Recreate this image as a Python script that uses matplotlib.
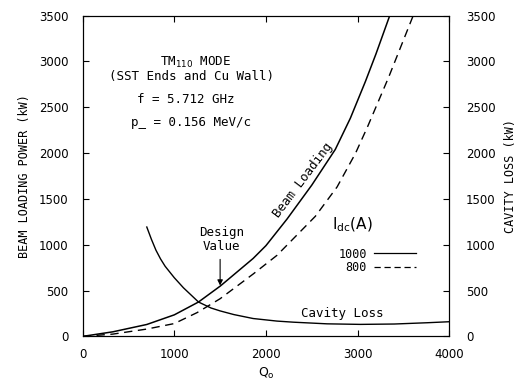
import matplotlib
matplotlib.use("Agg")
import matplotlib.pyplot as plt
from matplotlib.lines import Line2D

## Values
# Beam loading power (kW) vs Q_o, I_dc = 1000 A (solid)
q_1000 = [0, 330, 700, 1000, 1264, 1503, 1860, 2000, 2230, 2500, 2757, 2921, 3085, 3200, 3351]
p_1000 = [0, 50, 130, 235, 375, 550, 850, 990, 1280, 1650, 2040, 2380, 2780, 3080, 3500]

# Beam loading power (kW) vs Q_o, I_dc = 800 A (dashed)
q_800 = [0, 330, 700, 1000, 1250, 1500, 1860, 2120, 2539, 2776, 2976, 3110, 3340, 3607]
p_800 = [0, 25, 80, 140, 260, 411, 680, 884, 1310, 1630, 1995, 2290, 2830, 3500]

# Cavity loss (kW), right axis
q_cav = [700, 750, 800, 850, 900, 1000, 1100, 1264, 1400, 1500, 1650, 1860, 2120, 2300, 2667, 3030, 3400, 3760, 4000]
p_cav = [1193, 1060, 940, 845, 765, 640, 530, 375, 310, 278, 238, 195, 167, 155, 137, 131, 135, 149, 160]

design_q = 1500
x_ticks = [0, 1000, 2000, 3000, 4000]
y_ticks = [0, 500, 1000, 1500, 2000, 2500, 3000, 3500]
legend_labels = ["1000", "800"]

mono = "DejaVu Sans Mono"
plt.rcParams["font.size"] = 8.5

fig = plt.figure(figsize=(5.23, 3.88), dpi=100)
ax = fig.add_axes([0.158, 0.133, 0.701, 0.827])
ax2 = ax.twinx()

ax.plot(q_1000, p_1000, "-", color="black", lw=1.1)
ax.plot(q_800, p_800, "--", color="black", lw=1.0, dashes=(6, 4))
ax2.plot(q_cav, p_cav, "-", color="black", lw=1.0)

ax.set_xlim(0, 4000)
ax.set_ylim(0, 3500)
ax2.set_ylim(0, 3500)
ax.set_xticks(x_ticks)
ax.set_yticks(y_ticks)
ax2.set_yticks(y_ticks)

ax.tick_params(direction="in", length=4, width=0.8, top=True, pad=8)
ax.tick_params(axis="y", pad=10)
ax2.tick_params(direction="in", length=4, width=0.8, pad=12)
for a in (ax, ax2):
    for s in a.spines.values():
        s.set_linewidth(0.8)

ax.set_xlabel(r"Q$_{\rm o}$", fontsize=9, labelpad=4)
ax.set_ylabel("BEAM LOADING POWER (kW)", family=mono, fontsize=8.5, labelpad=6)
ax2.set_ylabel("CAVITY LOSS (kW)", family=mono, fontsize=8.5, labelpad=6)

# mode annotations
ax.text(1230, 2990, r"TM$_{110}$ MODE", family=mono, fontsize=9, ha="center", va="center")
ax.text(1190, 2830, "(SST Ends and Cu Wall)", family=mono, fontsize=9, ha="center", va="center")
ax.text(1130, 2580, "f = 5.712 GHz", family=mono, fontsize=9, ha="center", va="center")
ax.text(1180, 2330, "p_ = 0.156 MeV/c", family=mono, fontsize=9, ha="center", va="center")

ax.text(2400, 1700, "Beam Loading", family=mono, fontsize=9, rotation=53,
        ha="center", va="center", rotation_mode="anchor")
ax.text(2830, 254, "Cavity Loss", family=mono, fontsize=9, ha="center", va="center")

ax.text(1511, 1131, "Design", family=mono, fontsize=9, ha="center", va="center")
ax.text(1511, 978, "Value", family=mono, fontsize=9, ha="center", va="center")
ax.annotate("", xy=(design_q, 555), xytext=(design_q, 840),
            arrowprops=dict(arrowstyle="-|>", color="black", lw=0.8,
                            mutation_scale=8, shrinkA=0, shrinkB=0))

# current legend
handles = [Line2D([], [], color="black", lw=0.9),
           Line2D([], [], color="black", lw=0.9, ls="--", dashes=(5, 3))]
leg = ax.legend(handles, legend_labels, markerfirst=False, frameon=False,
                loc="upper left", bbox_to_anchor=(0.668, 0.31),
                handlelength=3.6, handletextpad=0.6, labelspacing=0.05,
                prop={"family": mono, "size": 8.5})
ax.text(2722, 1215, r"I$_{\rm dc}$(A)", fontsize=11, ha="left", va="center")

fig.savefig("out.png", dpi=100)
